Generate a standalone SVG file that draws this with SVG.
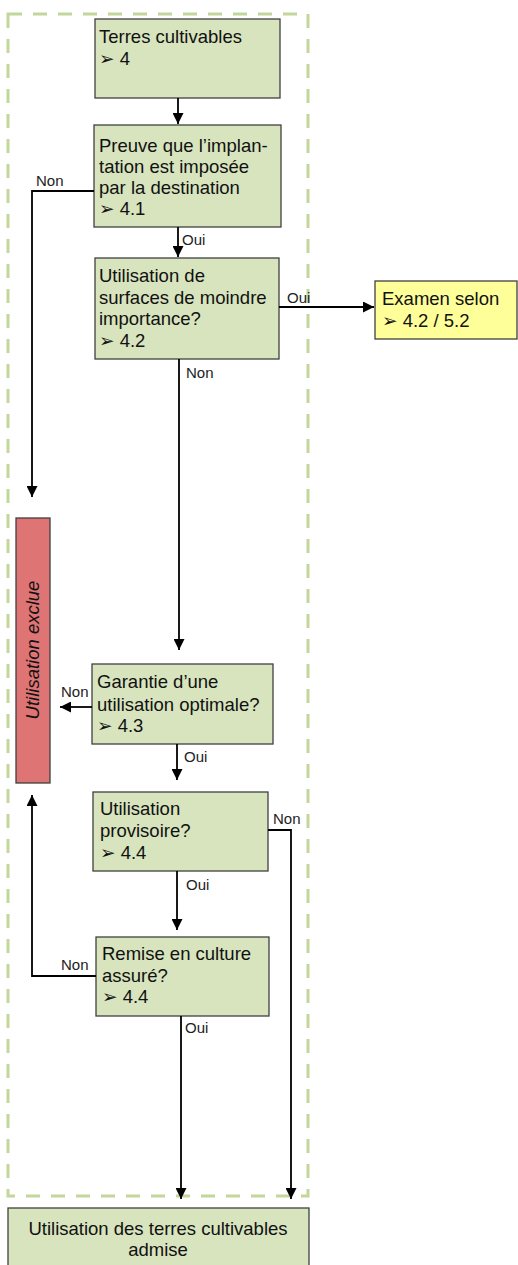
<svg xmlns="http://www.w3.org/2000/svg" width="518" height="1265" viewBox="0 0 518 1265">
<defs>
<marker id="ah" viewBox="0 0 10 10" refX="10" refY="5" markerWidth="11" markerHeight="11" markerUnits="userSpaceOnUse" orient="auto">
<path d="M0,0 L10,5 L0,10 Z" fill="#000"/>
</marker>
<style>
.box{fill:#D7E4BD;stroke:#404040;stroke-width:1.3}
.yel{fill:#FFFF99;stroke:#404040;stroke-width:1.3}
.red{fill:#DE7474;stroke:#404040;stroke-width:1.3}
.t{font-family:"Liberation Sans",Arial,"DejaVu Sans",sans-serif;font-size:18.5px;fill:#111}
.l{font-family:"Liberation Sans",Arial,sans-serif;font-size:15px;fill:#222}
.c{fill:none;stroke:#000;stroke-width:1.8;marker-end:url(#ah)}
.frame{fill:none;stroke:#C3D69B;stroke-width:3;stroke-dasharray:14 11}
</style>
</defs>
<rect class="frame" x="8" y="14" width="300" height="1182"/>
<g id="n1"><rect class="box" x="95" y="19" width="185" height="79"/>
<text class="t" x="99" y="43">Terres cultivables</text><text class="t" x="99" y="65">➢  4</text></g>
<g id="n2"><rect class="box" x="94" y="125" width="187" height="102"/>
<text class="t" x="99" y="152">Preuve que l’implan-</text><text class="t" x="99" y="173">tation est imposée</text><text class="t" x="99" y="194">par la destination</text><text class="t" x="99" y="215">➢ 4.1</text></g>
<g id="n3"><rect class="box" x="95" y="258" width="184" height="101"/>
<text class="t" x="99" y="282">Utilisation de</text><text class="t" x="99" y="304">surfaces de moindre</text><text class="t" x="99" y="325">importance?</text><text class="t" x="99" y="347">➢ 4.2</text></g>
<g id="n4"><rect class="yel" x="375" y="281" width="142" height="58"/>
<text class="t" x="382" y="305">Examen selon</text><text class="t" x="382" y="327">➢ 4.2 / 5.2</text></g>
<g id="n5"><rect class="red" x="16" y="518" width="34" height="265"/>
<text class="t" font-style="italic" text-anchor="middle" transform="translate(39,650) rotate(-90)">Utilisation exclue</text></g>
<g id="n6"><rect class="box" x="92" y="664" width="181" height="80"/>
<text class="t" x="97" y="688">Garantie d’une</text><text class="t" x="97" y="711">utilisation optimale?</text><text class="t" x="97" y="732">➢ 4.3</text></g>
<g id="n7"><rect class="box" x="93" y="792" width="175" height="79"/>
<text class="t" x="100" y="815">Utilisation</text><text class="t" x="100" y="837">provisoire?</text><text class="t" x="100" y="859">➢ 4.4</text></g>
<g id="n8"><rect class="box" x="96" y="937" width="173" height="79"/>
<text class="t" x="102" y="960">Remise en culture</text><text class="t" x="102" y="982">assuré?</text><text class="t" x="102" y="1003">➢ 4.4</text></g>
<g id="n9"><rect class="box" x="8" y="1208" width="301" height="62"/>
<text class="t" x="158" y="1235" text-anchor="middle">Utilisation des terres cultivables</text><text class="t" x="158" y="1256" text-anchor="middle">admise</text></g>
<g id="connectors">
<path class="c" d="M178,98 V124"/>
<path class="c" d="M178,227 V257"/>
<path class="c" d="M279,307 H374"/>
<path class="c" d="M179,359 V650"/>
<path class="c" d="M94,191 H32 V497"/>
<path class="c" d="M92,707 H60"/>
<path class="c" d="M177,744 V780"/>
<path class="c" d="M268,830 H291 V1199"/>
<path class="c" d="M177,871 V930"/>
<path class="c" d="M96,976 H32 V795"/>
<path class="c" d="M181,1016 V1199"/>
<text class="l" x="36" y="186">Non</text>
<text class="l" x="182" y="245">Oui</text>
<text class="l" x="287" y="303">Oui</text>
<text class="l" x="186" y="378">Non</text>
<text class="l" x="61" y="697">Non</text>
<text class="l" x="184" y="762">Oui</text>
<text class="l" x="273" y="824">Non</text>
<text class="l" x="186" y="890">Oui</text>
<text class="l" x="61" y="970">Non</text>
<text class="l" x="185" y="1033">Oui</text>
</g>
</svg>
